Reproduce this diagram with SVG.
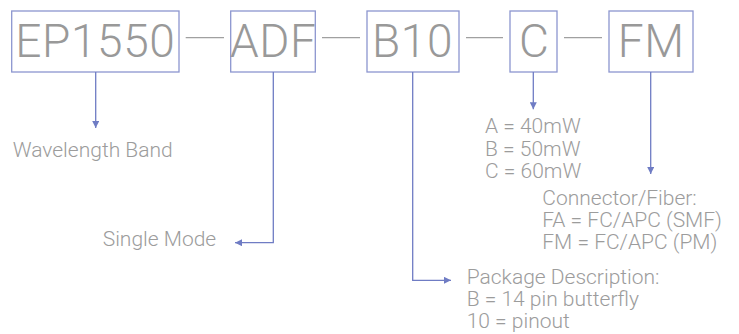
<svg xmlns="http://www.w3.org/2000/svg" width="739" height="334" viewBox="0 0 739 334">
<style>
.box{fill:none;stroke:#8c96cf;stroke-width:1.3}
.big{font-family:Roboto,"Liberation Sans",sans-serif;font-weight:300;font-size:46px;letter-spacing:0.6px;fill:#999;text-anchor:middle}
.lbl{font-family:Roboto,"Liberation Sans",sans-serif;font-weight:300;font-size:21px;fill:#9c9c9c}
.dash{stroke:#a0a0a0;stroke-width:1.2}
.con{fill:none;stroke:#6f7cc4;stroke-width:1.3}
</style>
<defs>
<marker id="arr" viewBox="0 0 10 10" refX="10" refY="5" markerWidth="8" markerHeight="7" markerUnits="userSpaceOnUse" orient="auto">
<path d="M0,0 L10,5 L0,10 z" fill="#6f7cc4"/>
</marker>
</defs>
<g id="node-ep1550"><rect class="box" x="11.7" y="11" width="167.3" height="61"/><text class="big" x="95.3" y="57">EP1550</text></g>
<g id="node-adf"><rect class="box" x="230.7" y="11" width="84.6" height="61"/><text class="big" x="273.3" y="57">ADF</text></g>
<g id="node-b10"><rect class="box" x="367" y="11" width="92" height="61"/><text class="big" x="412.5" y="57">B10</text></g>
<g id="node-c"><rect class="box" x="510" y="11" width="47" height="61"/><text class="big" x="534.3" y="57">C</text></g>
<g id="node-fm"><rect class="box" x="609" y="11" width="84" height="61"/><text class="big" x="651.3" y="57">FM</text></g>
<g id="node-wavelength"><text class="lbl" x="12.7" y="156.5">Wavelength Band</text></g>
<g id="node-single"><text class="lbl" x="102.7" y="245.5">Single Mode</text></g>
<g id="node-power"><text class="lbl" x="485" y="133.3">A = 40mW</text><text class="lbl" x="485" y="155.5">B = 50mW</text><text class="lbl" x="485" y="177.7">C = 60mW</text></g>
<g id="node-connector"><text class="lbl" x="542.3" y="205">Connector/Fiber:</text><text class="lbl" x="542.3" y="227.3">FA = FC/APC (SMF)</text><text class="lbl" x="542.3" y="249.3">FM = FC/APC (PM)</text></g>
<g id="node-package"><text class="lbl" x="466.7" y="284">Package Description:</text><text class="lbl" x="466.7" y="306">B = 14 pin butterfly</text><text class="lbl" x="466.7" y="328.3">10 = pinout</text></g>
<g id="connectors">
<line class="dash" x1="185.7" y1="37.7" x2="224" y2="37.7"/>
<line class="dash" x1="322" y1="37.7" x2="360" y2="37.7"/>
<line class="dash" x1="466" y1="37.7" x2="503" y2="37.7"/>
<line class="dash" x1="564" y1="37.7" x2="602" y2="37.7"/>
<path class="con" d="M95.7,72 V128" marker-end="url(#arr)"/>
<path class="con" d="M273.3,72 V242.7 H235" marker-end="url(#arr)"/>
<path class="con" d="M533.3,72 V109.3" marker-end="url(#arr)"/>
<path class="con" d="M650.7,72 V174" marker-end="url(#arr)"/>
<path class="con" d="M412.7,72 V280.3 H451" marker-end="url(#arr)"/>
</g>
</svg>
